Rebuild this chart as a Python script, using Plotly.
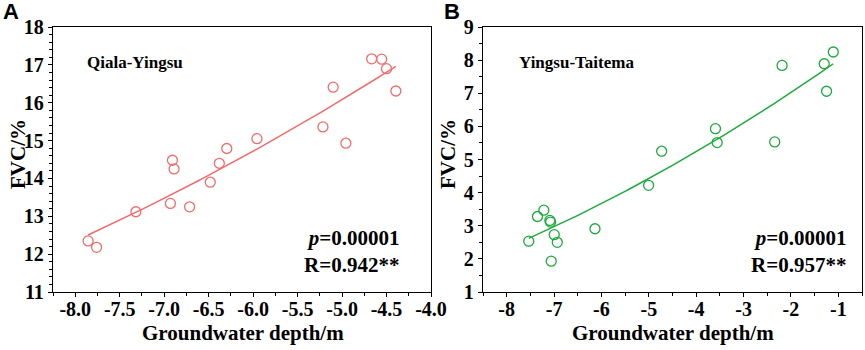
import numpy as np
import plotly.graph_objects as go

# Panel A: Qiala-Yingsu
depth_a = [-4.667, -4.555, -4.50, -4.395, -5.10, -5.215, -4.957, -5.957, -6.296,
           -6.38, -6.907, -6.889, -6.482, -7.318, -6.93, -6.714, -7.855, -7.76]
fvc_a = [17.16, 17.15, 16.90, 16.31, 16.41, 15.36, 14.93, 15.05, 14.79,
         14.40, 14.48, 14.25, 13.90, 13.12, 13.34, 13.25, 12.35, 12.18]

# Panel B: Yingsu-Taitema
depth_b = [-1.106, -1.297, -1.248, -2.187, -2.343, -3.593, -3.557, -4.729, -5.004,
           -6.136, -7.534, -7.35, -7.216, -7.089, -7.074, -6.996, -6.932, -7.06]
fvc_b = [8.245, 7.89, 7.06, 7.84, 5.53, 5.93, 5.51, 5.25, 4.22,
         2.91, 2.535, 3.28, 3.47, 3.16, 3.11, 2.73, 2.50, 1.93]

# Fitted trend curves: FVC = c0 + c1*d + c2*d^2
trend_a = [24.65, 2.008, 0.0588]
trend_b = [9.027, 1.058, 0.0275]

# Tick values and labels
xticks_a = [-8.0, -7.5, -7.0, -6.5, -6.0, -5.5, -5.0, -4.5, -4.0]
xlabels_a = ["-8.0", "-7.5", "-7.0", "-6.5", "-6.0", "-5.5", "-5.0", "-4.5", "-4.0"]
yticks_a = [11, 12, 13, 14, 15, 16, 17, 18]
xticks_b = [-8, -7, -6, -5, -4, -3, -2, -1]
xlabels_b = ["-8", "-7", "-6", "-5", "-4", "-3", "-2", "-1"]
yticks_b = [1, 2, 3, 4, 5, 6, 7, 8, 9]

label_a = "Qiala-Yingsu"
label_b = "Yingsu-Taitema"
stats_a = "<i>p</i>=0.00001<br>R=0.942**"
stats_b = "<i>p</i>=0.00001<br>R=0.957**"
xtitle = "Groundwater depth/m"
ytitle = "FVC/%"

col_a = "#F26B6B"
col_b = "#1DAA3C"

def trend(x, coef):
    xs = np.linspace(min(x), max(x), 120)
    return xs, coef[0] + coef[1] * xs + coef[2] * xs ** 2

def bold(labels):
    return ["<b>%s</b>" % t for t in labels]

fig = go.Figure()
for x, y, coef, col, xa, ya in [(depth_a, fvc_a, trend_a, col_a, "x", "y"),
                                (depth_b, fvc_b, trend_b, col_b, "x2", "y2")]:
    xs, ys = trend(x, coef)
    fig.add_trace(go.Scatter(x=xs, y=ys, mode="lines", line=dict(color=col, width=1.5),
                             xaxis=xa, yaxis=ya, showlegend=False, hoverinfo="skip"))
    fig.add_trace(go.Scatter(x=x, y=y, mode="markers",
                             marker=dict(symbol="circle-open", size=10, color=col, line=dict(width=1.3)),
                             xaxis=xa, yaxis=ya, showlegend=False))

W, H = 865, 350
tickfont = dict(family="Liberation Serif", size=20, color="black", weight="bold")
titlefont = dict(family="Liberation Serif", size=21, color="black", weight="bold")
axis_common = dict(showline=True, linecolor="black", linewidth=1.3, mirror=True,
                   ticks="outside", ticklen=4, tickwidth=1.2, tickcolor="black",
                   showgrid=False, zeroline=False, tickfont=tickfont, automargin=False,
                   tickmode="array")

def minor(t0, dt):
    return dict(tickmode="linear", tick0=t0, dtick=dt, ticks="outside", ticklen=3,
                tickwidth=1, tickcolor="black")

yd = [1 - 292 / H, 1 - 27 / H]
fig.update_layout(
    width=W, height=H, margin=dict(l=0, r=0, t=0, b=0, autoexpand=False),
    paper_bgcolor="white", plot_bgcolor="white",
    xaxis=dict(domain=[53 / W, 431 / W], range=[-8.25, -4.0],
               tickvals=xticks_a, ticktext=bold(xlabels_a), minor=minor(-8.25, 0.25),
               ticklabelstandoff=-5, anchor="y", **axis_common),
    yaxis=dict(domain=yd, range=[11, 18],
               tickvals=yticks_a, ticktext=bold([str(v) for v in yticks_a]), minor=minor(11, 0.2),
               anchor="x", **axis_common),
    xaxis2=dict(domain=[483 / W, 862 / W], range=[-8.5, -0.5],
                tickvals=xticks_b, ticktext=bold(xlabels_b), minor=minor(-8.5, 0.5),
                ticklabelstandoff=-5, anchor="y2", **axis_common),
    yaxis2=dict(domain=yd, range=[1, 9],
                tickvals=yticks_b, ticktext=bold([str(v) for v in yticks_b]), minor=minor(1, 0.5),
                anchor="x2", **axis_common),
)

ann = []
pf = dict(family="Liberation Sans", size=22, color="black", weight="bold")
ann.append(dict(text="A", x=1 / W, y=1 - 11 / H, xanchor="left", yanchor="middle", font=pf))
ann.append(dict(text="B", x=442 / W, y=1 - 11 / H, xanchor="left", yanchor="middle", font=pf))
for xc in [243, 673]:
    ann.append(dict(text=xtitle, x=xc / W, y=1 - 333 / H, xanchor="center",
                    yanchor="middle", font=titlefont))
for xc in [18, 448]:
    ann.append(dict(text=ytitle, x=xc / W, y=1 - 154 / H, xanchor="center", yanchor="middle",
                    textangle=-90, font=titlefont))
lf = dict(family="Liberation Serif", size=17, color="black", weight="bold")
ann.append(dict(text=label_a, x=85 / W, y=1 - 62 / H, xanchor="left", yanchor="middle", font=lf))
ann.append(dict(text=label_b, x=517 / W, y=1 - 62 / H, xanchor="left", yanchor="middle", font=lf))
sf = dict(family="Liberation Serif", size=21, color="black", weight="bold")
ann.append(dict(text=stats_a, x=401 / W, y=1 - 251 / H, xanchor="right", yanchor="middle",
                align="right", font=sf))
ann.append(dict(text=stats_b, x=848 / W, y=1 - 251 / H, xanchor="right", yanchor="middle",
                align="right", font=sf))
for a in ann:
    a.update(xref="paper", yref="paper", showarrow=False)
fig.update_layout(annotations=ann)

fig.write_html("out.html", config={"displayModeBar": False},
               post_script="document.body.style.margin='0px';")
